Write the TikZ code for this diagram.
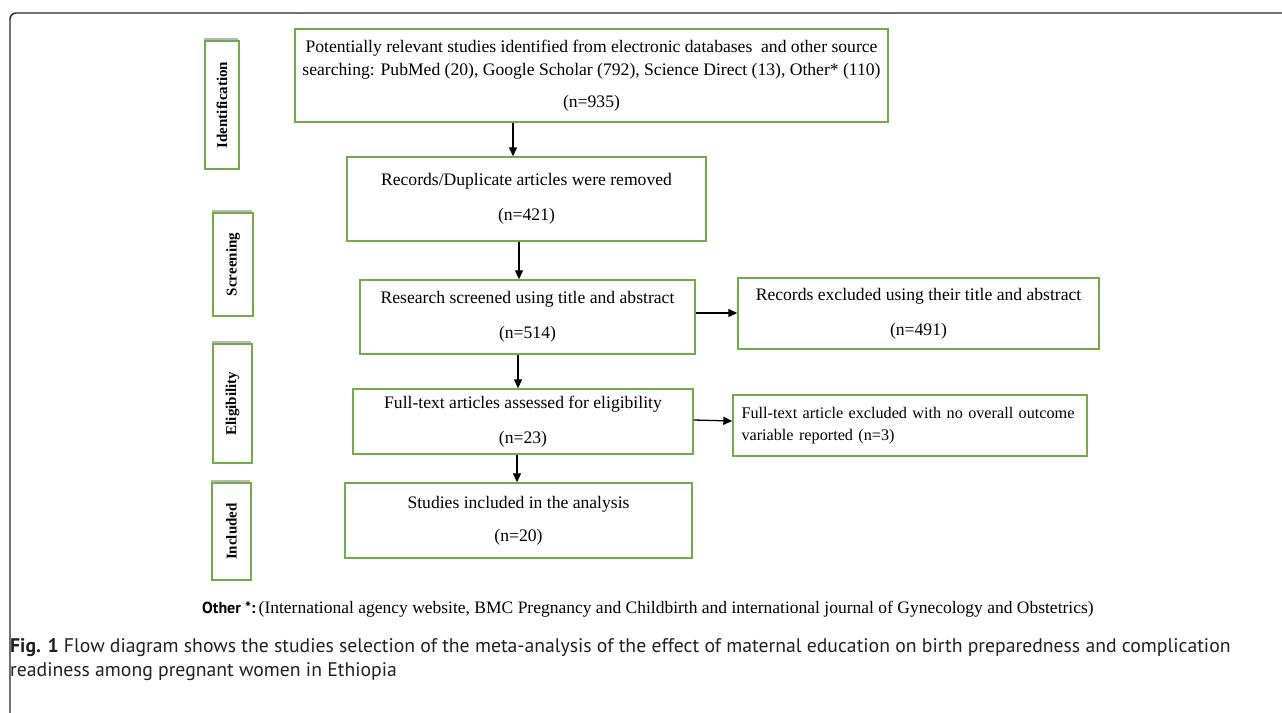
\documentclass[tikz,border=0pt]{standalone}
\usepackage{fontspec}
\setmainfont{Liberation Serif}
\newfontfamily\capfont{PT Sans}
\usetikzlibrary{shadows,arrows.meta}
\definecolor{boxgreen}{RGB}{112,173,71}
\definecolor{captext}{RGB}{35,31,32}
\begin{document}
\begin{tikzpicture}[x=1pt,y=-1pt,
  flowbox/.style={draw=boxgreen,line width=1.4pt,fill=white,inner sep=0pt,align=center,font=\fontsize{17.6}{23}\selectfont},
  stagebox/.style={draw=boxgreen,line width=1.4pt,fill=white,inner sep=0pt,
     drop shadow={shadow xshift=-1pt,shadow yshift=3pt,opacity=0.55,fill=gray}},
  stagelabel/.style={rotate=90,font=\fontsize{15}{17}\selectfont\bfseries},
  arr/.style={-{Triangle[length=9pt,width=8pt]},line width=1.3pt,black}]
\useasboundingbox (0,0) rectangle (1282,712);
% outer frame
\draw[line width=1.4pt,black!85,rounded corners=6pt] (10,720) -- (10,13) -- (1290,13);
% stage boxes
\node[stagebox,minimum width=34pt,minimum height=128pt] (sid) at (222,105) {};
\node[stagelabel] (lid) at (sid.center) {Identification};
\node[stagebox,minimum width=40pt,minimum height=103pt] (ssc) at (233,264.5) {};
\node[stagelabel] (lsc) at (ssc.center) {Screening};
\node[stagebox,minimum width=39pt,minimum height=119pt] (sel) at (232.5,403.5) {};
\node[stagelabel] (lel) at (sel.center) {Eligibility};
\node[stagebox,minimum width=39pt,minimum height=97pt] (sin) at (231.5,531.5) {};
\node[stagelabel] (lin) at (sin.center) {Included};
% flow boxes
\node[flowbox,minimum width=593pt,minimum height=93pt] (b1) at (591.5,75.5)
  {Potentially relevant studies identified from electronic databases\ \ and other source\\
   searching: PubMed (20), Google Scholar (792), Science Direct (13), Other* (110)\\[9pt] (n=935)};
\node[flowbox,minimum width=359pt,minimum height=84pt] (b2) at (526.5,199)
  {Records/Duplicate articles were removed\\[12pt] (n=421)};
\node[flowbox,minimum width=335pt,minimum height=74pt] (b3) at (527.5,317)
  {Research screened using title and abstract\\[12pt] (n=514)};
\node[flowbox,minimum width=361pt,minimum height=71pt] (b4) at (918.5,313.5)
  {Records excluded using their title and abstract\\[12pt] (n=491)};
\node[flowbox,minimum width=340pt,minimum height=65pt] (b5) at (523,421.5)
  {Full-text articles assessed for eligibility\\[12pt] (n=23)};
\node[flowbox,minimum height=61pt,text width=342pt,inner xsep=6pt,align=left,font=\fontsize{16.2}{22}\selectfont] (b7) at (910,425.5)
  {\hspace*{2.5pt}Full-text article excluded with no overall outcome\\\hspace*{2.5pt}variable reported (n=3)};
\node[flowbox,minimum width=347pt,minimum height=75pt] (b6) at (518.5,520.5)
  {Studies included in the analysis\\[10pt] (n=20)};
% arrows
\draw[arr] (b1.south -| 513,0) -- (b2.north -| 513,0);
\draw[arr] (b2.south -| 519,0) -- (b3.north -| 519,0);
\draw[arr] (b3.south -| 518,0) -- (b5.north -| 518,0);
\draw[arr] (b5.south -| 517,0) -- (b6.north -| 517,0);
\draw[arr] (b3.east |- 0,313) -- (b4.west |- 0,313);
\draw[arr] (b5.east |- 0,420) -- (b7.west |- 0,421);
% footnote
\node[anchor=base west,inner sep=0pt] (other) at (202,613)
  {{\capfont\fontsize{16}{18}\selectfont\bfseries Other *:} \fontsize{17.5}{19}\selectfont(International agency website, BMC Pregnancy and Childbirth and international journal of Gynecology and Obstetrics)};
% caption
\node[anchor=base west,inner sep=0pt,text=captext,font=\capfont\fontsize{19.7}{24}\selectfont] (cap1) at (10,652)
  {\textbf{Fig. 1} Flow diagram shows the studies selection of the meta-analysis of the effect of maternal education on birth preparedness and complication};
\node[anchor=base west,inner sep=0pt,text=captext,font=\capfont\fontsize{19.7}{24}\selectfont] (cap2) at (10,676)
  {readiness among pregnant women in Ethiopia};
\end{tikzpicture}
\end{document}
